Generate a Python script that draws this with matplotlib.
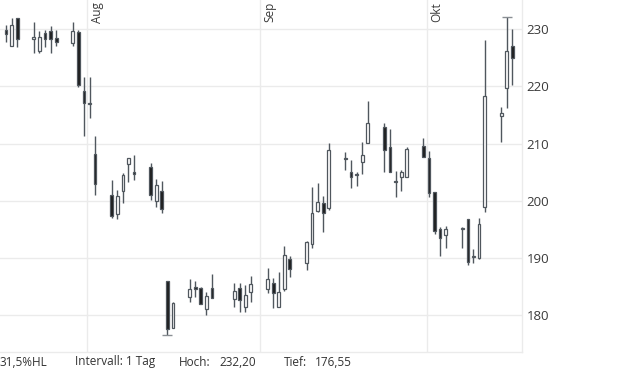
import datetime as dt
import matplotlib
matplotlib.use("Agg")
import matplotlib.pyplot as plt
import matplotlib.dates as mdates
import matplotlib.transforms as mtransforms

plt.rcParams['font.family'] = ['Open Sans', 'DejaVu Sans']

# daily candles (trading days)
days = ["2024-07-17", "2024-07-18", "2024-07-19", "2024-07-22", "2024-07-23",
        "2024-07-24", "2024-07-25", "2024-07-26", "2024-07-29", "2024-07-30",
        "2024-07-31", "2024-08-01", "2024-08-02", "2024-08-05", "2024-08-06",
        "2024-08-07", "2024-08-08", "2024-08-09", "2024-08-12", "2024-08-13",
        "2024-08-14", "2024-08-15", "2024-08-16", "2024-08-19", "2024-08-20",
        "2024-08-21", "2024-08-22", "2024-08-23", "2024-08-27", "2024-08-28",
        "2024-08-29", "2024-08-30", "2024-09-02", "2024-09-03", "2024-09-04",
        "2024-09-05", "2024-09-06", "2024-09-09", "2024-09-10", "2024-09-11",
        "2024-09-12", "2024-09-13", "2024-09-16", "2024-09-17", "2024-09-18",
        "2024-09-19", "2024-09-20", "2024-09-23", "2024-09-24", "2024-09-25",
        "2024-09-26", "2024-09-27", "2024-09-30", "2024-10-01", "2024-10-02",
        "2024-10-03", "2024-10-04", "2024-10-07", "2024-10-08", "2024-10-09",
        "2024-10-10", "2024-10-11", "2024-10-14", "2024-10-15", "2024-10-16"]

opens = [229.82, 227.13, 231.93, 228.25, 226.25, 229.30, 229.65, 228.42, 227.65, 229.53,
         219.19, 216.95, 208.16, 200.98, 197.65, 201.73, 206.36, 204.96, 205.83, 199.93,
         201.73, 185.87, 177.64, 183.17, 184.82, 184.64, 181.02, 184.64, 182.71, 184.64,
         181.31, 183.94, 184.47, 185.62, 181.42, 184.47, 189.72, 189.02, 192.41, 198.18,
         199.53, 198.76, 207.40, 204.96, 204.61, 206.71, 210.04, 212.94, 209.33, 203.43,
         204.19, 204.19, 209.56, 207.41, 201.45, 194.97, 193.92, 195.00, 196.72, 190.10,
         190.00, 198.93, 214.87, 219.77, 227.08]
highs = [230.75, 231.93, 231.90, 231.23, 229.65, 229.82, 230.58, 229.82, 231.23, 229.82,
         221.70, 221.70, 211.31, 203.61, 201.86, 204.78, 207.41, 207.99, 206.64, 203.73,
         203.38, 185.87, 182.29, 186.22, 185.87, 184.82, 184.05, 187.14, 185.52, 185.62,
         185.22, 186.80, 188.14, 186.39, 187.55, 192.05, 190.30, 193.00, 202.43, 203.03,
         200.80, 210.14, 208.56, 207.11, 204.96, 210.26, 217.44, 213.54, 212.54, 205.18,
         205.36, 209.44, 210.91, 208.69, 201.45, 195.43, 195.61, 195.43, 196.72, 191.53,
         196.90, 228.13, 216.34, 232.20, 230.00]
lows = [227.83, 227.00, 226.95, 225.80, 225.80, 226.95, 225.90, 227.13, 227.13, 219.95,
        211.37, 214.41, 200.98, 197.00, 196.83, 199.63, 203.31, 203.61, 200.10, 198.93,
        197.88, 176.55, 177.64, 182.29, 183.17, 181.89, 180.02, 182.89, 181.42, 180.44,
        180.54, 182.29, 183.87, 181.24, 181.42, 184.22, 186.57, 187.85, 191.65, 198.06,
        194.55, 198.35, 205.36, 202.15, 202.61, 204.61, 210.04, 205.06, 204.96, 200.58,
        201.73, 204.19, 207.58, 200.58, 194.10, 190.35, 191.65, 191.65, 188.72, 189.02,
        189.72, 198.06, 210.21, 216.27, 220.25]
closes = [229.12, 230.75, 228.25, 228.60, 228.60, 228.25, 228.25, 227.83, 229.65, 220.25,
          217.04, 217.10, 202.85, 197.36, 200.80, 204.48, 207.41, 204.61, 200.93, 202.68,
          198.47, 177.46, 182.12, 184.46, 184.47, 181.95, 183.35, 182.95, 184.17, 182.54,
          183.47, 185.40, 186.22, 183.77, 183.94, 190.47, 187.97, 192.80, 197.78, 199.70,
          197.78, 208.86, 207.20, 204.08, 204.43, 207.93, 213.54, 208.86, 205.00, 203.20,
          204.96, 209.04, 207.60, 201.38, 194.68, 193.40, 194.97, 195.05, 189.19, 190.20,
          195.85, 218.32, 215.29, 226.20, 224.92]

months = ["2024-08-01", "2024-09-01", "2024-10-01"]
month_labels = ["Aug", "Sep", "Okt"]
y_ticks = [180, 190, 200, 210, 220, 230]

edge = "#50575e"
grid_c = "#ebebeb"

fig = plt.figure(figsize=(6.2, 3.72), dpi=100)
ax = fig.add_axes([0, 20 / 372, 521.7 / 620, 352 / 372])

x = [mdates.date2num(dt.datetime.fromisoformat(d)) + 0.4 for d in days]

# wicks
ax.vlines(x, lows, highs, color=edge, linewidth=1, zorder=2)

# bodies
for xi, o, c in zip(x, opens, closes):
    bottom = min(o, c)
    height = max(abs(c - o), 0.15)
    face = "#1c1c1c" if c < o else "white"
    ax.bar(xi, height, bottom=bottom, width=0.5, color=face,
           edgecolor=edge, linewidth=0.9, zorder=3)

# caps on highest high and lowest low
i_hi = highs.index(max(highs))
i_lo = lows.index(min(lows))
ax.hlines(highs[i_hi], x[i_hi] - 0.9, x[i_hi] + 0.9, color="#8a8f94", linewidth=1, zorder=2)
ax.hlines(lows[i_lo], x[i_lo] - 0.9, x[i_lo] + 0.9, color="#8a8f94", linewidth=1, zorder=2)

aug1 = mdates.date2num(dt.datetime(2024, 8, 1))
oct1 = mdates.date2num(dt.datetime(2024, 10, 1))
ax.set_xlim(aug1 - 15.69, oct1 + 17.07)
ax.set_ylim(173.49, 235.13)

month_x = [mdates.date2num(dt.datetime.fromisoformat(m)) for m in months]
ax.set_xticks(month_x)
ax.set_xticklabels([])
ax.set_yticks(y_ticks)
ax.yaxis.tick_right()
ax.tick_params(axis='both', length=0)
ax.tick_params(axis='y', pad=3.6, labelsize=9.5, labelcolor="#3a3a3a")
ax.grid(True, color=grid_c, linewidth=1, zorder=0)
ax.set_axisbelow(True)

for side in ["top", "left"]:
    ax.spines[side].set_visible(False)
for side in ["right", "bottom"]:
    ax.spines[side].set_color(grid_c)
    ax.spines[side].set_linewidth(1)

trans = mtransforms.blended_transform_factory(ax.transData, ax.transAxes)
for mx, lab in zip(month_x, month_labels):
    ax.text(mx + 0.7, 0.995, lab, transform=trans, rotation=90,
            ha='left', va='top', fontsize=8.5, color="#3a3a3a")

# info line at the bottom
ty = 10 / 372
fig.text(0 / 620, ty, "31,5%HL", fontsize=8.5, color="#333333", va='center')
fig.text(75 / 620, ty, "Intervall: 1 Tag", fontsize=8.5, color="#333333", va='center')
fig.text(179 / 620, ty, "Hoch:", fontsize=8.5, color="#333333", va='center')
fig.text(219 / 620, ty, "232,20", fontsize=8.5, color="#333333", va='center')
fig.text(284 / 620, ty, "Tief:", fontsize=8.5, color="#333333", va='center')
fig.text(315 / 620, ty, "176,55", fontsize=8.5, color="#333333", va='center')

fig.savefig("out.png", dpi=100)
